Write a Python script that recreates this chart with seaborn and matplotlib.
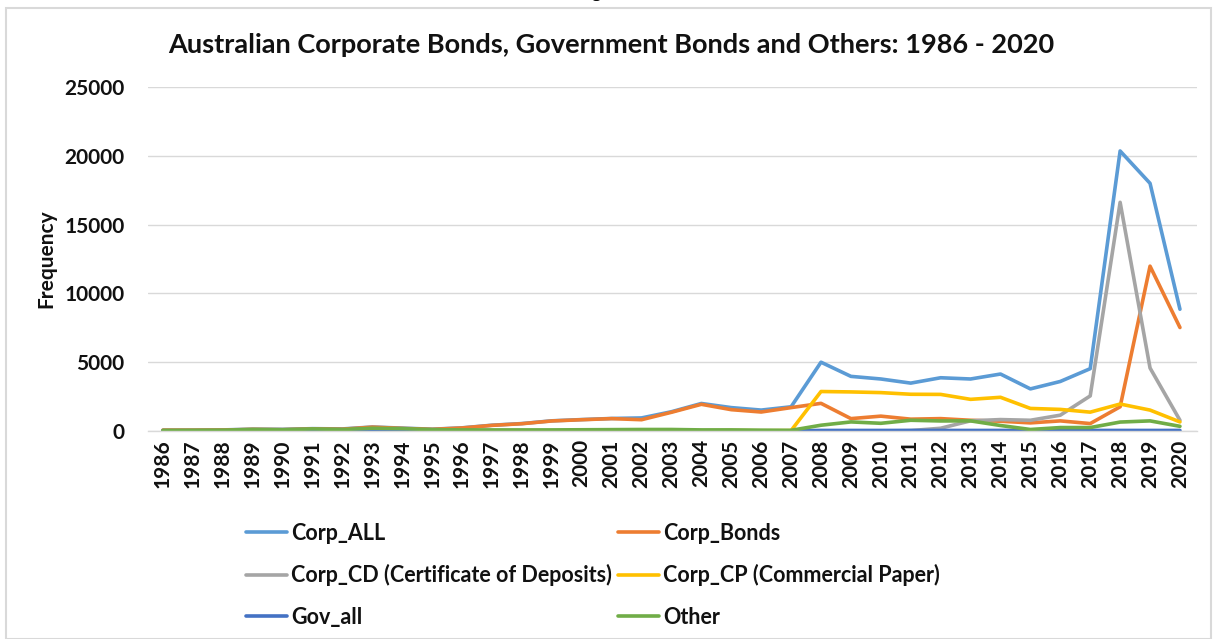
import matplotlib
matplotlib.use("Agg")
import matplotlib.pyplot as plt
from matplotlib.patches import Rectangle
import seaborn as sns
import pandas as pd

years = list(range(1986, 2021))

corp_all = [60, 60, 80, 130, 120, 170, 150, 290, 210, 130,
            230, 420, 540, 740, 830, 910, 950, 1400, 2000, 1700,
            1520, 1760, 5000, 3970, 3780, 3480, 3870, 3780, 4140, 3060,
            3600, 4530, 20350, 18000, 8850]
corp_bonds = [60, 60, 70, 120, 100, 150, 130, 280, 190, 120,
              220, 410, 530, 730, 820, 900, 820, 1360, 1940, 1550,
              1380, 1700, 2010, 900, 1080, 860, 900, 780, 710, 590,
              735, 540, 1760, 11980, 7520]
corp_cd = [0, 0, 0, 0, 0, 0, 0, 0, 0, 0,
           0, 0, 0, 0, 0, 0, 0, 0, 0, 0,
           0, 0, 0, 0, 0, 30, 200, 740, 830, 780,
           1150, 2550, 16620, 4580, 780]
corp_cp = [0, 0, 0, 0, 0, 0, 0, 0, 0, 0,
           0, 0, 0, 0, 0, 0, 0, 0, 20, 40,
           20, 30, 2870, 2840, 2790, 2670, 2660, 2300, 2450, 1640,
           1570, 1370, 1960, 1520, 660]
gov_all = [10, 10, 10, 10, 10, 10, 10, 10, 10, 10,
           10, 10, 10, 10, 10, 10, 10, 10, 10, 10,
           10, 10, 40, 40, 40, 40, 40, 40, 40, 40,
           40, 40, 40, 40, 40]
other = [40, 50, 60, 110, 90, 150, 110, 200, 170, 100,
         80, 80, 80, 80, 90, 100, 110, 110, 80, 80,
         60, 50, 420, 660, 560, 780, 730, 735, 400, 110,
         250, 250, 650, 735, 340]

series_names = ["Corp_ALL", "Corp_Bonds", "Corp_CD (Certificate of Deposits)",
                "Corp_CP (Commercial Paper)", "Gov_all", "Other"]
series_values = [corp_all, corp_bonds, corp_cd, corp_cp, gov_all, other]
series_colors = ["#5B9BD5", "#ED7D31", "#A5A5A5", "#FFC000", "#4472C4", "#70AD47"]

df = pd.concat(
    [pd.DataFrame({"Year": years, "Frequency": vals, "Series": name})
     for name, vals in zip(series_names, series_values)],
    ignore_index=True,
)

sns.set_theme(style="white")
plt.rcParams["font.family"] = ["Lato", "DejaVu Sans"]

W, H = 1217, 639
fig = plt.figure(figsize=(W / 100, H / 100), dpi=100)
ax = fig.add_axes([148 / W, (H - 431) / H, (1197 - 148) / W, (431 - 87) / H])

sns.lineplot(data=df, x="Year", y="Frequency", hue="Series",
             hue_order=series_names, palette=series_colors,
             linewidth=2.6, sort=False, legend=False, ax=ax)

ax.set_xlim(1985.5, 2020.57)
ax.set_ylim(0, 25000)
ax.set_yticks(range(0, 25001, 5000))
ax.set_xticks(years)
ax.set_xticklabels([str(y) for y in years], rotation=90)
ax.yaxis.grid(True, color="#D9D9D9", linewidth=1)
ax.xaxis.grid(False)
for side in ["top", "right", "left"]:
    ax.spines[side].set_visible(False)
ax.spines["bottom"].set_color("#D9D9D9")
ax.spines["bottom"].set_linewidth(1)
ax.tick_params(axis="both", length=0, labelsize=15, colors="#111111")
ax.tick_params(axis="y", pad=17)
ax.tick_params(axis="x", pad=6)
for lbl in ax.get_xticklabels() + ax.get_yticklabels():
    lbl.set_fontweight("bold")
ax.set_xlabel("")
ax.set_ylabel("")
fig.text(46 / W, 1 - 259 / H, "Frequency", rotation=90, ha="center", va="center",
         fontsize=15, fontweight="bold", color="#111111")

fig.text(611 / W, 1 - 45 / H,
         "Australian Corporate Bonds, Government Bonds and Others: 1986 - 2020",
         ha="center", va="center", fontsize=19.5, fontweight="bold", color="#111111")

# legend laid out row by row: two entries per row
order = [0, 2, 4, 1, 3, 5]
handles = [plt.Line2D([], [], color=series_colors[i], linewidth=2.6) for i in order]
labels = [series_names[i] for i in order]
leg = fig.legend(handles, labels, ncol=2, frameon=False,
                 loc="upper left", bbox_to_anchor=(237 / W, 1 - 514 / H),
                 fontsize=15.5, handlelength=1.9, handletextpad=0.2,
                 columnspacing=0.3, labelspacing=0.95, borderaxespad=0)
for t in leg.get_texts():
    t.set_fontweight("bold")
    t.set_color("#111111")

# outer chart frame
fig.patches.append(Rectangle((6 / W, 0), (1211 - 6) / W, 1 - 8 / H,
                             transform=fig.transFigure, fill=False,
                             edgecolor="#D9D9D9", linewidth=1.5))

# caption clipped at the top edge
fig.text(0.5, 1.012, "Figure 3", ha="center", va="center",
         fontsize=13, fontweight="bold", family="Liberation Serif", color="black")

fig.savefig("out.png", dpi=100)
